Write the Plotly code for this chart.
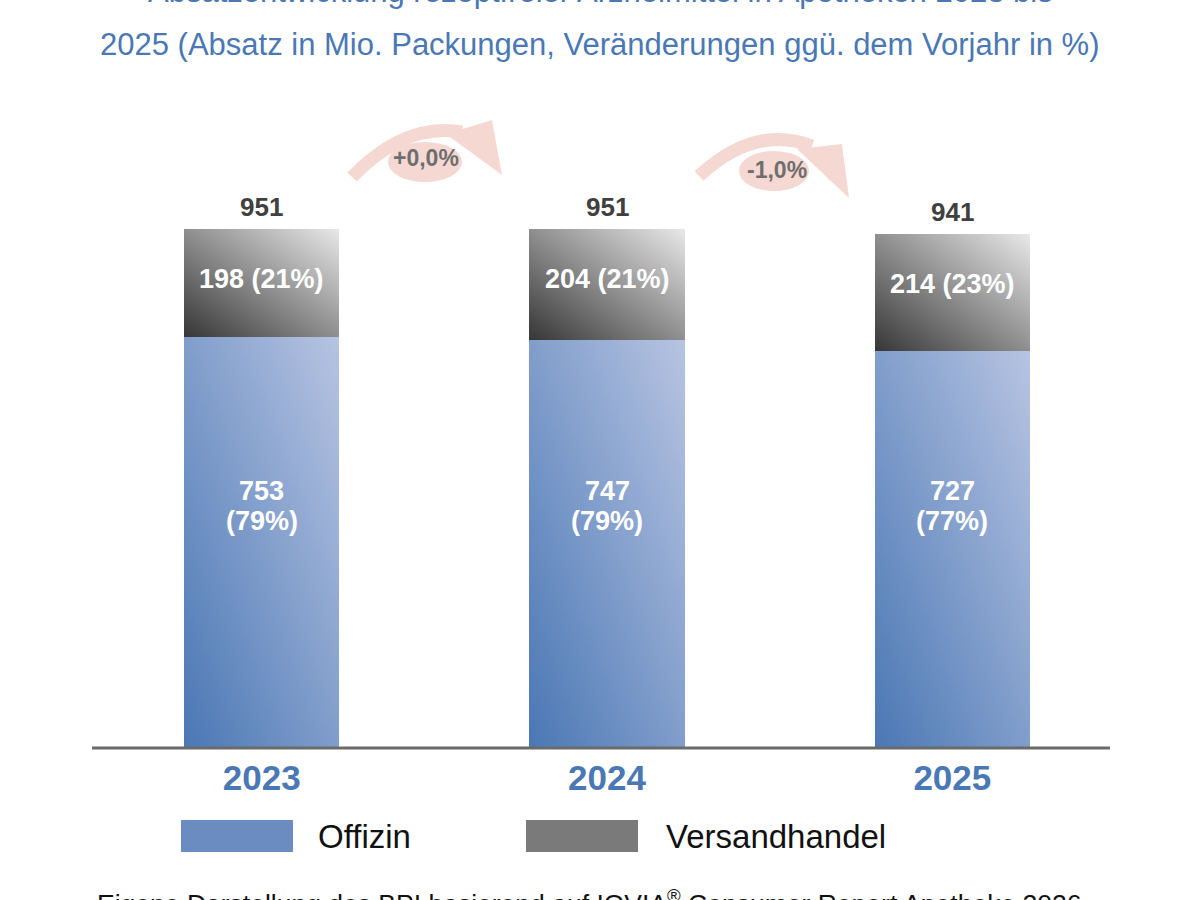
import plotly.graph_objects as go

# ── Daten (Absatz in Mio. Packungen)
years        = ['2023', '2024', '2025']
offizin      = [753, 747, 727]
offizin_pct  = [79, 79, 77]
versand      = [198, 204, 214]
versand_pct  = [21, 21, 23]
totals       = [951, 951, 941]
changes      = ['+0,0%', '-1,0%']

BLUE      = '#4a78b5'
OFF_COLOR = '#7d98c9'
VER_COLOR = '#8c8c8c'
ARROW_COL = '#f6d8d2'
FONT      = 'Liberation Sans, Arial, sans-serif'

# Plot-Bereich in Pixeln (1200x900)
L, R, T, B = 89, 75, 100, 152
W, H = 1200 - L - R, 900 - T - B


def px(x, y):
    """Pixel -> paper Koordinaten."""
    return (x - L) / W, (900 - B - y) / H


def path(points, close=False):
    s = ''
    for i, (x, y) in enumerate(points):
        xp, yp = px(x, y)
        s += ('M' if i == 0 else 'L') + f'{xp:.4f},{yp:.4f} '
    return s + ('Z' if close else '')


def curve(p0, c, p1):
    x0, y0 = px(*p0)
    xc, yc = px(*c)
    x1, y1 = px(*p1)
    return f'M{x0:.4f},{y0:.4f} Q{xc:.4f},{yc:.4f} {x1:.4f},{y1:.4f}'


def note(x, y, text, size, color, xanchor='center', bold=False):
    xp, yp = px(x, y)
    return dict(x=xp, y=yp, xref='paper', yref='paper', showarrow=False,
                xanchor=xanchor, yanchor='middle',
                text=f'<b>{text}</b>' if bold else text,
                font=dict(size=size, color=color, family=FONT))


fig = go.Figure()
fig.add_trace(go.Bar(
    x=years, y=offizin, name='Offizin',
    marker=dict(color=OFF_COLOR, line=dict(width=0)), width=0.45,
))
fig.add_trace(go.Bar(
    x=years, y=versand, name='Versandhandel',
    marker=dict(color=VER_COLOR, line=dict(width=0)), width=0.45,
))

annotations = []
# Offizin-Beschriftung auf gleicher Höhe in allen Balken
off_label_y = min(offizin) * 0.61
# Kategorie-Index als x (Kategorieachse)
for i, (o, op, v, vp, t) in enumerate(zip(offizin, offizin_pct, versand, versand_pct, totals)):
    annotations.append(dict(
        x=i, y=t, xref='x', yref='y', text=f'<b>{t}</b>', showarrow=False,
        xanchor='center', yanchor='bottom', yshift=5,
        font=dict(size=26, color='#404040', family=FONT)))
    annotations.append(dict(
        x=i, y=t, xref='x', yref='y', text=f'<b>{v} ({vp}%)</b>', showarrow=False,
        xanchor='center', yanchor='middle', yshift=-50,
        font=dict(size=27, color='white', family=FONT)))
    for txt, dy in [(f'{o}', 15), (f'({op}%)', -15)]:
        annotations.append(dict(
            x=i, y=off_label_y, xref='x', yref='y', text=f'<b>{txt}</b>', showarrow=False,
            xanchor='center', yanchor='middle', yshift=dy,
            font=dict(size=27, color='white', family=FONT)))

shapes = []
# Geschwungene Pfeile mit Ellipse
arrows = [
    dict(start=(352, 177), ctrl=(405, 122), end=(462, 132),
         head=[(446, 134), (492, 120), (502, 175)], ell=(425, 162, 37, 20), txt=(426, 158)),
    dict(start=(699, 176), ctrl=(755, 124), end=(812, 146),
         head=[(797, 149), (842, 144), (849, 198)], ell=(774, 171, 35, 20), txt=(777, 170)),
]
for a, lab in zip(arrows, changes):
    cx, cy, rx, ry = a['ell']
    x0, y0 = px(cx - rx, cy + ry)
    x1, y1 = px(cx + rx, cy - ry)
    shapes.append(dict(type='circle', xref='paper', yref='paper', x0=x0, y0=y0, x1=x1, y1=y1,
                       fillcolor=ARROW_COL, line=dict(width=0), layer='above'))
    shapes.append(dict(type='path', xref='paper', yref='paper',
                       path=curve(a['start'], a['ctrl'], a['end']),
                       line=dict(color=ARROW_COL, width=13), layer='above'))
    shapes.append(dict(type='path', xref='paper', yref='paper', path=path(a['head'], True),
                       fillcolor=ARROW_COL, line=dict(width=0), layer='above'))
    annotations.append(note(*a['txt'], lab, 23, '#6e6e6e', bold=True))

# x-Achsenlinie
ax0, ay = px(92, 748)
ax1, _ = px(1110, 748)
shapes.append(dict(type='line', xref='paper', yref='paper', x0=ax0, x1=ax1, y0=ay, y1=ay,
                   line=dict(color='#6b6b6b', width=3)))

# Legende (manuell)
for (sx, tx), name, col in zip([(181, 316), (526, 664)], ['Offizin', 'Versandhandel'],
                               ['#6a8cc0', '#7a7a7a']):
    x0, y0 = px(sx, 852)
    x1, y1 = px(sx + 112, 820)
    shapes.append(dict(type='rect', xref='paper', yref='paper', x0=x0, y0=y0, x1=x1, y1=y1,
                       fillcolor=col, line=dict(width=0)))
    annotations.append(note(tx, 836, name, 33, '#111111', xanchor='left'))

# Titel (oben angeschnitten) und Quelle (unten angeschnitten)
annotations.append(note(600, -9, 'Absatzentwicklung rezeptfreier Arzneimittel in Apotheken 2023 bis',
                        31, BLUE))
annotations.append(note(600, 45, '2025 (Absatz in Mio. Packungen, Veränderungen ggü. dem Vorjahr in %)',
                        31, BLUE))
annotations.append(note(95, 902, 'Eigene Darstellung des BPI basierend auf IQVIA<sup>®</sup> '
                        'Consumer Report Apotheke 2026', 26.5, '#111111', xanchor='left'))

fig.update_layout(
    width=1200, height=900,
    barmode='stack',
    showlegend=False,
    plot_bgcolor='white', paper_bgcolor='white',
    margin=dict(l=L, r=R, t=T, b=B),
    annotations=annotations,
    shapes=shapes,
    xaxis=dict(
        type='category', range=[-0.5, 2.5], showline=False, showgrid=False,
        zeroline=False, ticks='', tickangle=0, ticklabelstandoff=6,
        tickfont=dict(size=35, color=BLUE, family=FONT),
        tickmode='array', tickvals=years, ticktext=[f'<b>{y}</b>' for y in years],
    ),
    yaxis=dict(visible=False, range=[0, 1187], showgrid=False, zeroline=False),
)

# Farbverlauf der Balken (unten links dunkel -> oben rechts hell)
GRADIENT_JS = """
document.body.style.margin = '0';
(function () {
  var gd = document.getElementById('{plot_id}');
  var grads = [['gOff', '#4a77b4', '#b7c4e2'], ['gVer', '#363636', '#e8e8e8']];
  function paint() {
    var svg = gd.querySelector('.main-svg');
    var defs = svg.querySelector('defs');
    var ns = 'http://www.w3.org/2000/svg';
    grads.forEach(function (g) {
      if (defs.querySelector('#' + g[0])) return;
      var lg = document.createElementNS(ns, 'linearGradient');
      lg.setAttribute('id', g[0]);
      lg.setAttribute('x1', '0'); lg.setAttribute('y1', '1');
      lg.setAttribute('x2', '1'); lg.setAttribute('y2', '0');
      [[0, g[1]], [1, g[2]]].forEach(function (s) {
        var st = document.createElementNS(ns, 'stop');
        st.setAttribute('offset', s[0]);
        st.setAttribute('stop-color', s[1]);
        lg.appendChild(st);
      });
      defs.appendChild(lg);
    });
    gd.querySelectorAll('.barlayer .trace').forEach(function (tr, k) {
      tr.querySelectorAll('path').forEach(function (p) {
        p.style.fill = 'url(#' + grads[k][0] + ')';
      });
    });
  }
  paint();
  gd.on('plotly_afterplot', paint);
})();
"""

fig.write_html('out.html', config={'displayModeBar': False}, post_script=GRADIENT_JS)
